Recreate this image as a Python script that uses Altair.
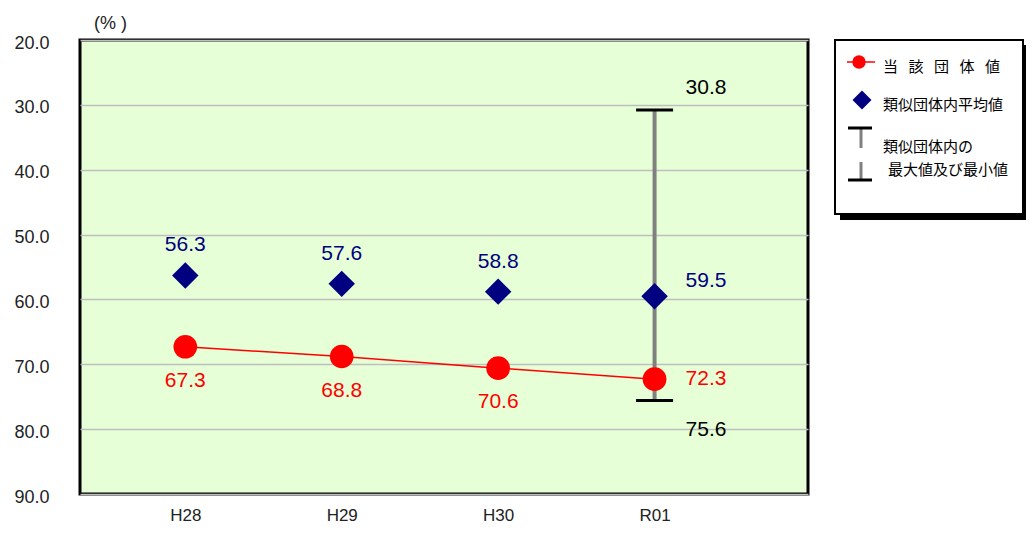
import altair as alt
import pandas as pd

years = ["H28", "H29", "H30", "R01"]
own_values = [67.3, 68.8, 70.6, 72.3]
avg_values = [56.3, 57.6, 58.8, 59.5]
range_year = ["R01"]
range_max = [30.8]
range_min = [75.6]
y_ticks = [20, 30, 40, 50, 60, 70, 80, 90]

df = pd.DataFrame({"year": years, "own": own_values, "avg": avg_values})
rng = pd.DataFrame({"year": range_year, "max": range_max, "min": range_min})
one = pd.DataFrame({"k": [0]})

NUM_FONT = "Liberation Sans"
JP_FONT = "Noto Sans CJK JP"
RED = "#FF0000"
NAVY = "#000080"

xs = alt.Scale(type="point", domain=years, padding=0.827, align=0.407)
X = alt.X("year:N", scale=xs, sort=years,
          axis=alt.Axis(title=None, ticks=False, domain=False, grid=False, labelAngle=0,
                        labelFontSize=17, labelFont=NUM_FONT, labelColor="#222222",
                        labelPadding=13))
ys = alt.Scale(domain=[20, 90], reverse=True, nice=False, zero=False)


def Y(field):
    return alt.Y(f"{field}:Q", scale=ys,
                 axis=alt.Axis(values=y_ticks, format=".1f", title="(% )", titleAngle=0,
                               titleX=30, titleY=-17, titleAlign="center",
                               titleBaseline="middle", titleFontSize=18,
                               titleFontWeight="normal", titleFont=NUM_FONT,
                               titleColor="#222222",
                               ticks=False, domain=False, grid=True,
                               gridColor="#BEBEBE", gridWidth=1.5,
                               labelFontSize=18, labelFont=NUM_FONT, labelColor="#222222",
                               labelPadding=31, labelOffset=3))


base = alt.Chart(df)

rule = alt.Chart(rng).mark_rule(color="#808080", strokeWidth=4).encode(
    x=X, y=Y("max"), y2="min:Q")
tick_max = alt.Chart(rng).mark_tick(orient="horizontal", size=37, thickness=3,
                                    color="black", opacity=1).encode(x=X, y=Y("max"))
tick_min = alt.Chart(rng).mark_tick(orient="horizontal", size=37, thickness=3,
                                    color="black", opacity=1).encode(x=X, y=Y("min"))

line = base.mark_line(color=RED, strokeWidth=1.5).encode(x=X, y=Y("own"))
circles = base.mark_point(shape="circle", filled=True, size=560, color=RED,
                          opacity=1).encode(x=X, y=Y("own"))
diamonds = base.mark_point(shape="diamond", filled=True, size=700, color=NAVY,
                           opacity=1).encode(x=X, y=Y("avg"))

own_lbl = base.transform_filter(alt.datum.year != "R01").mark_text(
    dy=34, fontSize=21, font=NUM_FONT, color=RED).encode(
    x=X, y=Y("own"), text=alt.Text("own:Q", format=".1f"))
own_lbl_r = base.transform_filter(alt.datum.year == "R01").mark_text(
    dx=31, align="left", fontSize=21, font=NUM_FONT, color=RED).encode(
    x=X, y=Y("own"), text=alt.Text("own:Q", format=".1f"))
avg_lbl = base.transform_filter(alt.datum.year != "R01").mark_text(
    dy=-30, fontSize=21, font=NUM_FONT, color=NAVY).encode(
    x=X, y=Y("avg"), text=alt.Text("avg:Q", format=".1f"))
avg_lbl_r = base.transform_filter(alt.datum.year == "R01").mark_text(
    dx=31, dy=-15, align="left", fontSize=21, font=NUM_FONT, color=NAVY).encode(
    x=X, y=Y("avg"), text=alt.Text("avg:Q", format=".1f"))
max_lbl = alt.Chart(rng).mark_text(dx=31, dy=-22, align="left", fontSize=21,
                                   font=NUM_FONT, color="black").encode(
    x=X, y=Y("max"), text=alt.Text("max:Q", format=".1f"))
min_lbl = alt.Chart(rng).mark_text(dx=31, dy=29, align="left", fontSize=21,
                                   font=NUM_FONT, color="black").encode(
    x=X, y=Y("min"), text=alt.Text("min:Q", format=".1f"))

# legend (decoration, drawn to the right of the plot)
L = alt.Chart(one)
shadow = L.mark_rect(color="black").encode(
    x=alt.value(760), x2=alt.value(950), y=alt.value(5), y2=alt.value(180))
box = L.mark_rect(fill="white", stroke="black", strokeWidth=2).encode(
    x=alt.value(755), x2=alt.value(943), y=alt.value(0), y2=alt.value(174))
lg_line = L.mark_rule(color=RED, strokeWidth=1.5).encode(
    x=alt.value(767), x2=alt.value(795), y=alt.value(22))
lg_circle = L.mark_point(shape="circle", filled=True, size=180, color=RED, opacity=1).encode(
    x=alt.value(779), y=alt.value(22))
lg_diamond = L.mark_point(shape="diamond", filled=True, size=360, color=NAVY, opacity=1).encode(
    x=alt.value(782), y=alt.value(60))
lg_vtop = L.mark_rule(color="#808080", strokeWidth=3).encode(
    x=alt.value(781), y=alt.value(88), y2=alt.value(108))
lg_htop = L.mark_rule(color="black", strokeWidth=3).encode(
    x=alt.value(768), x2=alt.value(792), y=alt.value(88))
lg_vbot = L.mark_rule(color="#808080", strokeWidth=3).encode(
    x=alt.value(781), y=alt.value(122), y2=alt.value(140))
lg_hbot = L.mark_rule(color="black", strokeWidth=3).encode(
    x=alt.value(768), x2=alt.value(792), y=alt.value(140))


def lg_text(txt, x, y):
    return L.mark_text(align="left", baseline="middle", font=JP_FONT, fontSize=15,
                       color="black").encode(x=alt.value(x), y=alt.value(y),
                                             text=alt.value(txt))


lg_t1 = lg_text("当\u2002\u2009該\u2002\u2009団\u2002\u2009体\u2002\u2009値", 803, 27)
lg_t2 = lg_text("類似団体内平均値", 803, 65)
lg_t3 = lg_text("類似団体内の", 803, 107)
lg_t4 = lg_text("最大値及び最小値", 808, 130)

chart = alt.layer(
    rule, tick_max, tick_min, line, circles, diamonds,
    own_lbl, own_lbl_r, avg_lbl, avg_lbl_r, max_lbl, min_lbl,
    shadow, box, lg_line, lg_circle, lg_diamond, lg_vtop, lg_htop, lg_vbot, lg_hbot,
    lg_t1, lg_t2, lg_t3, lg_t4,
).properties(
    width=728, height=454,
    background="white",
    autosize=alt.AutoSizeParams(type="none"),
    padding={"left": 72, "top": 32, "right": 218, "bottom": 33},
).configure_view(
    fill="#E6FFD6", stroke="black", strokeWidth=3
)

chart.save("out.html", embed_options={"renderer": "svg", "actions": False})
